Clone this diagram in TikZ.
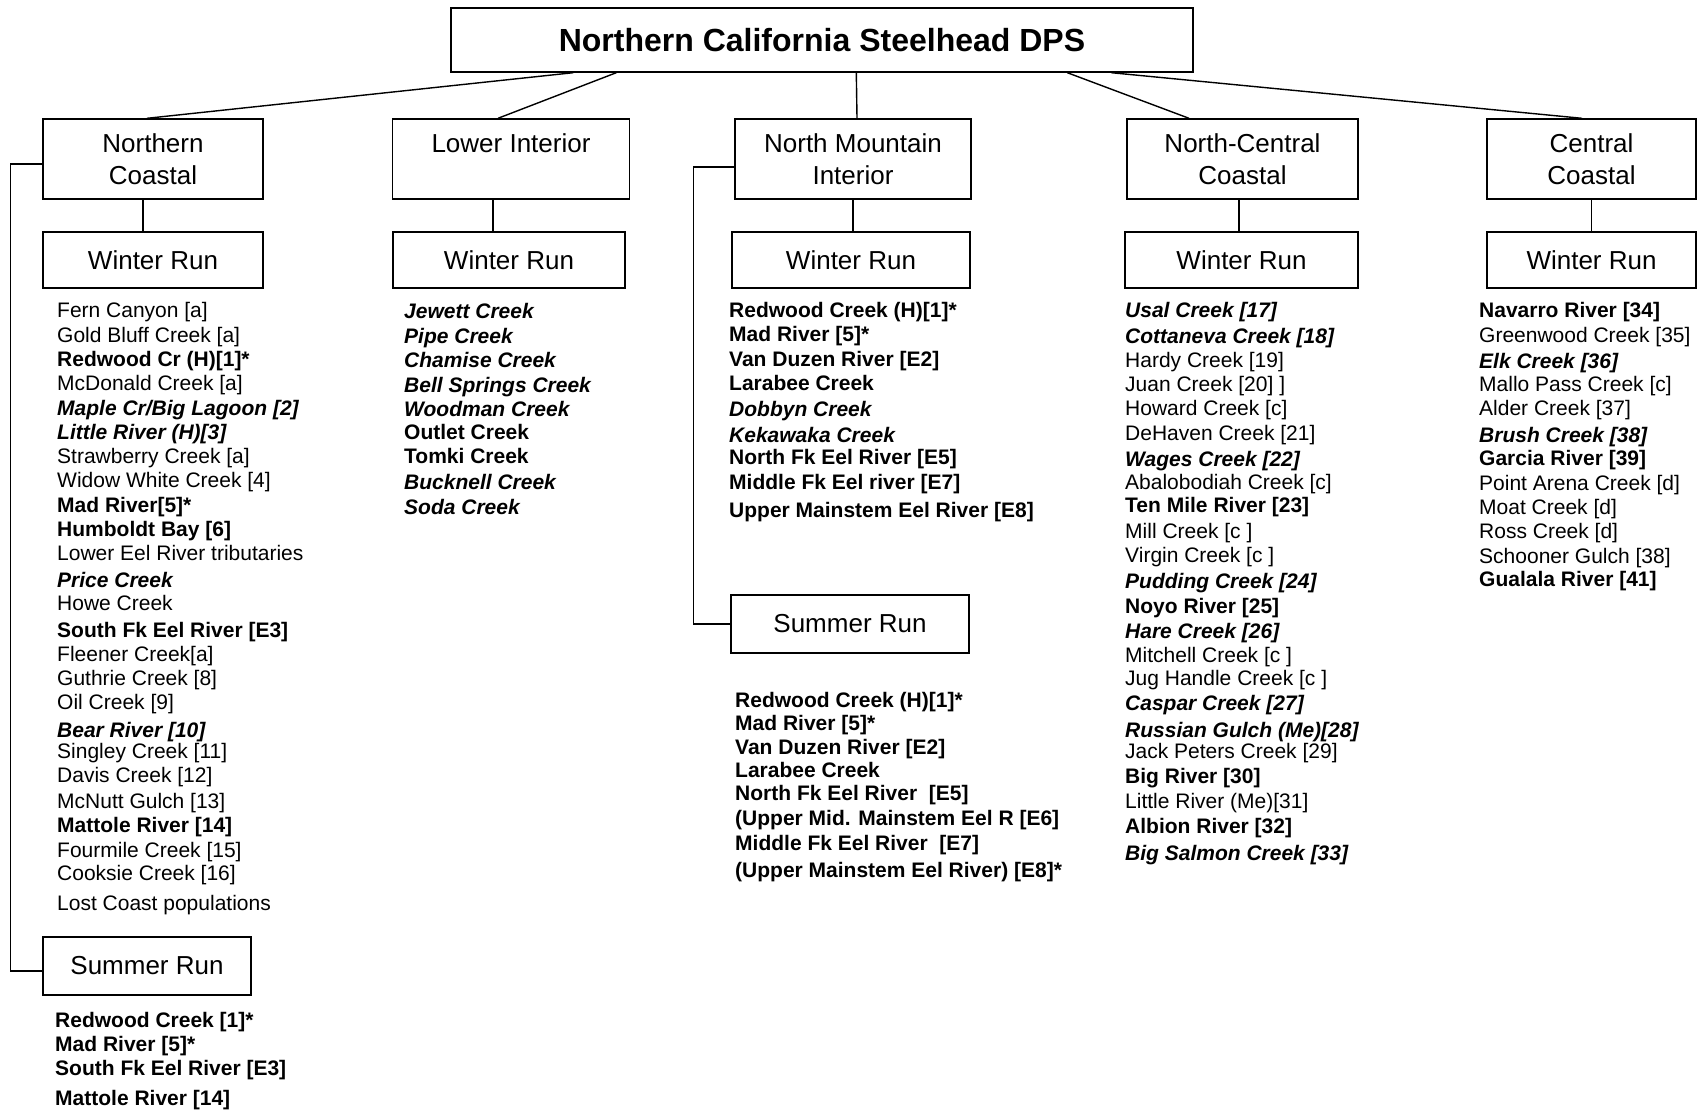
\documentclass[tikz,border=0pt]{standalone}
\usepackage{fontspec}
\setmainfont{Liberation Sans}
\begin{document}
\begin{tikzpicture}[x=1pt,y=-1pt,
  box/.style={draw,line width=1.4pt,inner sep=0pt,align=center,font=\fontsize{26}{32}\selectfont},
  conn/.style={line width=1.4pt},
  lr/.style={anchor=base west,inner sep=0pt,font=\fontsize{21}{25}\selectfont},
  lb/.style={anchor=base west,inner sep=0pt,font=\fontsize{21}{25}\selectfont\bfseries},
  lbi/.style={anchor=base west,inner sep=0pt,font=\fontsize{21}{25}\selectfont\bfseries\itshape}]
\useasboundingbox (0,0) rectangle (1699,1111);
% top
\node[box,minimum width=742pt,minimum height=64pt,font=\fontsize{32}{38}\selectfont\bfseries] (top) at (822,40) {Northern California Steelhead DPS};
% categories
\node[box,minimum width=220pt,minimum height=80pt] (nc) at (153,159) {Northern\\Coastal};
\node[box,minimum width=237pt,minimum height=80pt] (li) at (511,159) {Lower Interior\\\mbox{}};
\node[box,minimum width=236pt,minimum height=80pt] (nmi) at (853,159) {North Mountain\\Interior};
\node[box,minimum width=231pt,minimum height=80pt] (ncc) at (1242.5,159) {North-Central\\Coastal};
\node[box,minimum width=209pt,minimum height=80pt] (cc) at (1591.5,159) {Central\\Coastal};
% winter run
\node[box,minimum width=220pt,minimum height=56pt] (ncw) at (153,260) {Winter Run};
\node[box,minimum width=232pt,minimum height=56pt] (liw) at (509,260) {Winter Run};
\node[box,minimum width=238pt,minimum height=56pt] (nmiw) at (851,260) {Winter Run};
\node[box,minimum width=233pt,minimum height=56pt] (nccw) at (1241.5,260) {Winter Run};
\node[box,minimum width=209pt,minimum height=56pt] (ccw) at (1591.5,260) {Winter Run};
% summer run
\node[box,minimum width=238pt,minimum height=58pt] (nms) at (850,624) {Summer Run};
\node[box,minimum width=208pt,minimum height=58pt] (ncs) at (147,966) {Summer Run};
% connectors
\draw[conn] ([xshift=123pt]top.south west) -- ([xshift=-6pt]nc.north);
\draw[conn] ([xshift=166pt]top.south west) -- ([xshift=-13pt]li.north);
\draw[conn] ([xshift=406pt]top.south west) -- ([xshift=4pt]nmi.north);
\draw[conn] ([xshift=617pt]top.south west) -- ([xshift=-53.5pt]ncc.north);
\draw[conn] ([xshift=661pt]top.south west) -- ([xshift=-9.5pt]cc.north);
\draw[conn] ([xshift=-10pt]nc.south) -- ([xshift=-10pt]nc.south |- ncw.north);
\draw[conn] ([xshift=-18pt]li.south) -- ([xshift=-18pt]li.south |- liw.north);
\draw[conn] (nmi.south) -- (nmi.south |- nmiw.north);
\draw[conn] ([xshift=-3.5pt]ncc.south) -- ([xshift=-3.5pt]ncc.south |- nccw.north);
\draw[conn] (cc.south) -- (cc.south |- ccw.north);
\draw[conn] ([yshift=-5pt]nc.west) -- ++(-32,0) |- ([yshift=-5pt]ncs.west);
\draw[conn] ([yshift=-8pt]nmi.west) -- ++(-41,0) |- (nms.west);
% Northern Coastal winter
\node[lr] (a1) at (57,317) {Fern Canyon [a]};
\node[lr] (a2) at (57,342) {Gold Bluff Creek [a]};
\node[lb] (a3) at (57,366) {Redwood Cr (H)[1]*};
\node[lr] (a4) at (57,390) {McDonald Creek [a]};
\node[lbi] (a5) at (57,415) {Maple Cr/Big Lagoon [2]};
\node[lbi] (a6) at (57,439) {Little River (H)[3]};
\node[lr] (a7) at (57,463) {Strawberry Creek [a]};
\node[lr] (a8) at (57,487) {Widow White Creek [4]};
\node[lb] (a9) at (57,512) {Mad River[5]*};
\node[lb] (a10) at (57,536) {Humboldt Bay [6]};
\node[lr] (a11) at (57,560) {Lower Eel River tributaries};
\node[lbi] (a12) at (57,587) {Price Creek};
\node[lr] (a13) at (57,610) {Howe Creek};
\node[lb] (a14) at (57,637) {South Fk Eel River [E3]};
\node[lr] (a15) at (57,661) {Fleener Creek[a]};
\node[lr] (a16) at (57,685) {Guthrie Creek [8]};
\node[lr] (a17) at (57,709) {Oil Creek [9]};
\node[lbi] (a18) at (57,737) {Bear River [10]};
\node[lr] (a19) at (57,758) {Singley Creek [11]};
\node[lr] (a20) at (57,782) {Davis Creek [12]};
\node[lr] (a21) at (57,808) {McNutt Gulch [13]};
\node[lb] (a22) at (57,832) {Mattole River [14]};
\node[lr] (a23) at (57,857) {Fourmile Creek [15]};
\node[lr] (a24) at (57,880) {Cooksie Creek [16]};
\node[lr] (a25) at (57,910) {Lost Coast populations};
% Northern Coastal summer
\node[lb] (b1) at (55,1027) {Redwood Creek [1]*};
\node[lb] (b2) at (55,1051) {Mad River [5]*};
\node[lb] (b3) at (55,1075) {South Fk Eel River [E3]};
\node[lb] (b4) at (55,1105) {Mattole River [14]};
% Lower Interior
\node[lbi] (c1) at (404,318) {Jewett Creek};
\node[lbi] (c2) at (404,343) {Pipe Creek};
\node[lbi] (c3) at (404,367) {Chamise Creek};
\node[lbi] (c4) at (404,392) {Bell Springs Creek};
\node[lbi] (c5) at (404,416) {Woodman Creek};
\node[lb] (c6) at (404,439) {Outlet Creek};
\node[lb] (c7) at (404,463) {Tomki Creek};
\node[lbi] (c8) at (404,489) {Bucknell Creek};
\node[lbi] (c9) at (404,514) {Soda Creek};
% North Mountain Interior winter
\node[lb] (d1) at (729,317) {Redwood Creek (H)[1]*};
\node[lb] (d2) at (729,341) {Mad River [5]*};
\node[lb] (d3) at (729,366) {Van Duzen River [E2]};
\node[lb] (d4) at (729,390) {Larabee Creek};
\node[lbi] (d5) at (729,416) {Dobbyn Creek};
\node[lbi] (d6) at (729,442) {Kekawaka Creek};
\node[lb] (d7) at (729,464) {North Fk Eel River [E5]};
\node[lb] (d8) at (729,489) {Middle Fk Eel river [E7]};
\node[lb] (d9) at (729,517) {Upper Mainstem Eel River [E8]};
% North Mountain Interior summer
\node[lb] (e1) at (735,707) {Redwood Creek (H)[1]*};
\node[lb] (e2) at (735,730) {Mad River [5]*};
\node[lb] (e3) at (735,754) {Van Duzen River [E2]};
\node[lb] (e4) at (735,777) {Larabee Creek};
\node[lb] (e5) at (735,800) {North Fk Eel River\ \ [E5]};
\node[lb] (e6) at (735,825) {(Upper Mid. Mainstem Eel R [E6]};
\node[lb] (e7) at (735,850) {Middle Fk Eel River\ \ [E7]};
\node[lb] (e8) at (735,877) {(Upper Mainstem Eel River) [E8]*};
% North-Central Coastal
\node[lbi] (f1) at (1125,317) {Usal Creek [17]};
\node[lbi] (f2) at (1125,343) {Cottaneva Creek [18]};
\node[lr] (f3) at (1125,367) {Hardy Creek [19]};
\node[lr] (f4) at (1125,391) {Juan Creek [20] ]};
\node[lr] (f5) at (1125,415) {Howard Creek [c]};
\node[lr] (f6) at (1125,440) {DeHaven Creek [21]};
\node[lbi] (f7) at (1125,466) {Wages Creek [22]};
\node[lr] (f8) at (1125,489) {Abalobodiah Creek [c]};
\node[lb] (f9) at (1125,512) {Ten Mile River [23]};
\node[lr] (f10) at (1125,538) {Mill Creek [c ]};
\node[lr] (f11) at (1125,562) {Virgin Creek [c ]};
\node[lbi] (f12) at (1125,588) {Pudding Creek [24]};
\node[lb] (f13) at (1125,613) {Noyo River [25]};
\node[lbi] (f14) at (1125,638) {Hare Creek [26]};
\node[lr] (f15) at (1125,662) {Mitchell Creek [c ]};
\node[lr] (f16) at (1125,685) {Jug Handle Creek [c ]};
\node[lbi] (f17) at (1125,710) {Caspar Creek [27]};
\node[lbi] (f18) at (1125,737) {Russian Gulch (Me)[28]};
\node[lr] (f19) at (1125,758) {Jack Peters Creek [29]};
\node[lb] (f20) at (1125,783) {Big River [30]};
\node[lr] (f21) at (1125,808) {Little River (Me)[31]};
\node[lb] (f22) at (1125,833) {Albion River [32]};
\node[lbi] (f23) at (1125,860) {Big Salmon Creek [33]};
% Central Coastal
\node[lb] (g1) at (1479,317) {Navarro River [34]};
\node[lr] (g2) at (1479,342) {Greenwood Creek [35]};
\node[lbi] (g3) at (1479,368) {Elk Creek [36]};
\node[lr] (g4) at (1479,391) {Mallo Pass Creek [c]};
\node[lr] (g5) at (1479,415) {Alder Creek [37]};
\node[lbi] (g6) at (1479,442) {Brush Creek [38]};
\node[lb] (g7) at (1479,465) {Garcia River [39]};
\node[lr] (g8) at (1479,490) {Point Arena Creek [d]};
\node[lr] (g9) at (1479,514) {Moat Creek [d]};
\node[lr] (g10) at (1479,538) {Ross Creek [d]};
\node[lr] (g11) at (1479,563) {Schooner Gulch [38]};
\node[lb] (g12) at (1479,586) {Gualala River [41]};
\end{tikzpicture}
\end{document}
